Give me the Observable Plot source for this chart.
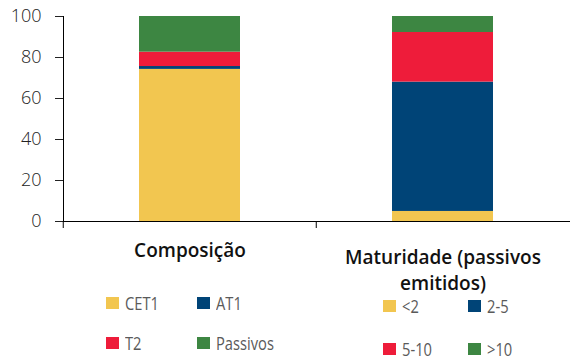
<!DOCTYPE html>
<html>
<head>
<meta charset="utf-8">
<script src="https://cdn.jsdelivr.net/npm/d3@7"></script>
<script src="https://cdn.jsdelivr.net/npm/@observablehq/plot@0.6"></script>
<style>
  html, body { margin: 0; padding: 0; background: #fff; }
  #wrap { position: relative; width: 576px; height: 361px; overflow: hidden; }
  .leg { position: absolute; display: flex; align-items: center; height: 12px; }
  .sw { width: 13px; height: 12px; flex: none; }
  .lb { display: inline-block; font-family: "Liberation Sans Narrow", "Open Sans", sans-serif; font-size: 17.5px; line-height: 12px; color: #5a5a5a;
        transform: scaleX(0.84); transform-origin: left center; margin-left: 6px; white-space: nowrap; }
</style>
</head>
<body>
<div id="wrap"></div>
<script>
// ---- data ----
const categories = ["Composição", "Maturidade (passivos emitidos)"];
const categoryLabels = ["Composição", "Maturidade (passivos\nemitidos)"];
const compSeries = ["CET1", "AT1", "T2", "Passivos"];
const compValues = [74.2, 1.4, 7.0, 17.4];
const matSeries = ["<2", "2-5", "5-10", ">10"];
const matValues = [4.9, 63.1, 24.2, 7.8];
const yTicks = [0, 20, 40, 60, 80, 100];

// ---- styles ----
const colors = ["#F2C650", "#004477", "#EE1C3A", "#3D8642"];

const rows = [];
compSeries.forEach((s, i) => rows.push({category: categories[0], series: s, level: i, value: compValues[i]}));
matSeries.forEach((s, i) => rows.push({category: categories[1], series: s, level: i, value: matValues[i]}));

const W = 576, H = 361, mL = 63, mR = 6, mT = 16, mB = 140;
const step = (W - mL - mR) / (categories.length - 0.6 + 2 * 0.3);

const chart = Plot.plot({
  width: W, height: H,
  marginLeft: mL, marginRight: mR, marginTop: mT, marginBottom: mB,
  style: {fontFamily: "'Open Sans', sans-serif", background: "white", color: "#222"},
  x: {domain: categories, paddingInner: 0.6, paddingOuter: 0.3, axis: null},
  y: {domain: [0, 100], axis: null},
  color: {type: "ordinal", domain: [0, 1, 2, 3], range: colors},
  marks: [
    Plot.barY(rows, {x: "category", y: "value", fill: "level", order: null}),
    Plot.axisY({ticks: yTicks, tickSize: 8, tickPadding: 14, fontSize: 18, fontWeight: 300, color: "#222", label: null}),
    Plot.frame({anchor: "left", stroke: "#000"}),
    Plot.ruleY([0], {stroke: "#000"}),
    Plot.axisX({tickSize: 7, tickFormat: () => "", dx: -step / 2, stroke: "#000", label: null}),
    Plot.text([categories[0]], {x: d => d, text: () => categoryLabels[0], frameAnchor: "bottom",
      lineAnchor: "top", dy: 21.5, fontSize: 19, fontWeight: 600, fill: "#111"}),
    Plot.text([categories[1]], {x: d => d, text: () => categoryLabels[1], frameAnchor: "bottom",
      lineAnchor: "top", dy: 24.5, fontSize: 19, fontWeight: 600, fill: "#111", lineHeight: 26 / 19})
  ]
});

const wrap = document.getElementById("wrap");
wrap.appendChild(chart);

// ---- legends (HTML) ----
const legendPos = [
  [[106, 297], [197, 297], [106, 337], [197, 337]],
  [[383, 299.5], [468, 299.5], [383, 342.5], [468, 342.5]]
];
[compSeries, matSeries].forEach((series, g) => {
  series.forEach((s, i) => {
    const d = document.createElement("div");
    d.className = "leg";
    d.style.left = legendPos[g][i][0] + "px";
    d.style.top = legendPos[g][i][1] + "px";
    const sw = document.createElement("div");
    sw.className = "sw";
    sw.style.background = colors[i];
    const lb = document.createElement("span");
    lb.className = "lb";
    lb.textContent = s;
    d.appendChild(sw); d.appendChild(lb);
    wrap.appendChild(d);
  });
});
</script>
</body>
</html>
